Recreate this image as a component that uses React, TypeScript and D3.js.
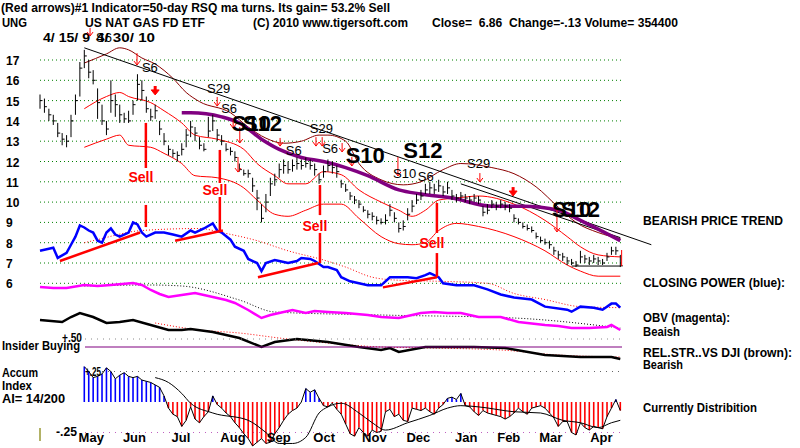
import React from 'react';
import * as d3 from 'd3';

// UNG daily bars 4/15/09 - 4/30/10, one entry every 2 trading days: [high, low, close]
const bars: number[][] = [
  [15.3, 14.6, 15.0], [15.1, 14.4, 14.7], [14.6, 14.0, 14.3], [14.3, 13.8, 14.0], [13.9, 13.2, 13.4],
  [13.4, 12.8, 13.1], [13.3, 12.7, 13.0], [14.3, 13.2, 14.0], [15.3, 14.3, 15.0], [16.9, 15.2, 16.6],
  [17.5, 16.6, 17.2], [17.0, 16.1, 16.4], [16.5, 15.8, 16.0], [15.6, 14.1, 14.9], [14.8, 13.8, 14.0],
  [14.0, 13.3, 13.6], [16.0, 14.4, 15.0], [15.3, 14.2, 14.8], [14.8, 13.9, 14.3], [14.4, 13.9, 14.1],
  [14.5, 13.9, 14.0], [15.0, 14.3, 14.8], [16.3, 15.0, 15.8], [16.0, 15.0, 15.5], [15.2, 14.4, 14.6],
  [14.6, 14.0, 14.2], [14.8, 14.1, 14.5], [14.0, 13.3, 13.6], [13.4, 12.8, 13.0], [12.8, 12.3, 12.6],
  [12.6, 12.2, 12.4], [12.5, 12.0, 12.3], [12.9, 12.3, 12.6], [13.6, 12.7, 13.3], [14.0, 13.2, 13.7],
  [13.7, 13.0, 13.4], [13.2, 12.6, 12.8], [12.9, 12.5, 12.6], [14.2, 13.2, 13.5], [14.3, 13.5, 14.0],
  [13.6, 13.0, 13.3], [13.3, 12.8, 13.0], [12.9, 12.5, 12.6], [12.7, 12.3, 12.5], [12.5, 12.0, 12.2],
  [11.9, 11.5, 11.6], [11.6, 11.3, 11.4], [11.6, 11.2, 11.4], [11.2, 10.5, 10.8], [10.6, 9.6, 10.2],
  [9.9, 9.0, 9.2], [10.4, 9.5, 10.0], [11.2, 10.3, 10.9], [11.4, 10.8, 11.1], [11.9, 11.2, 11.6],
  [12.1, 11.4, 11.8], [12.0, 11.4, 11.6], [12.1, 11.5, 11.8], [12.2, 11.6, 11.9], [12.1, 11.6, 11.8],
  [12.2, 11.7, 11.9], [12.1, 11.6, 11.8], [11.9, 11.3, 11.6], [11.4, 10.9, 11.1], [11.8, 11.2, 11.5],
  [12.1, 11.5, 11.8], [12.0, 11.4, 11.7], [11.8, 11.2, 11.5], [11.1, 10.7, 10.9], [10.9, 10.5, 10.6],
  [10.5, 10.1, 10.3], [10.3, 9.9, 10.1], [10.1, 9.7, 9.9], [9.8, 9.5, 9.6], [9.6, 9.2, 9.4],
  [9.5, 9.1, 9.3], [9.3, 8.9, 9.1], [9.2, 8.9, 9.0], [9.4, 8.9, 9.1], [9.9, 9.3, 9.6],
  [9.5, 9.0, 9.2], [9.0, 8.5, 8.7], [9.1, 8.6, 8.8], [9.7, 9.1, 9.4], [10.1, 9.5, 9.8],
  [10.4, 9.9, 10.1], [10.6, 10.1, 10.3], [10.9, 10.4, 10.6], [11.0, 10.4, 10.7], [10.9, 10.4, 10.6],
  [11.1, 10.5, 10.8], [10.8, 10.3, 10.5], [11.0, 10.4, 10.7], [10.6, 10.1, 10.3], [10.4, 10.0, 10.2],
  [10.5, 10.1, 10.3], [10.4, 10.0, 10.2], [10.3, 9.9, 10.1], [10.4, 10.0, 10.2], [10.3, 9.9, 10.1],
  [9.8, 9.3, 9.5], [9.9, 9.4, 9.6], [10.1, 9.7, 9.9], [10.0, 9.6, 9.8], [10.1, 9.7, 9.9],
  [10.0, 9.6, 9.8], [9.9, 9.5, 9.7], [9.4, 9.0, 9.2], [9.2, 8.9, 9.0], [9.0, 8.7, 8.8],
  [8.9, 8.6, 8.7], [8.8, 8.5, 8.6], [8.5, 8.2, 8.3], [8.3, 8.0, 8.1], [8.2, 7.9, 8.0],
  [8.1, 7.7, 7.9], [7.8, 7.4, 7.6], [7.6, 7.2, 7.4], [7.5, 7.1, 7.3], [7.3, 6.9, 7.1],
  [7.2, 6.9, 7.0], [7.1, 6.8, 6.9], [7.6, 7.0, 7.3], [7.4, 7.0, 7.2], [7.3, 6.9, 7.1],
  [7.4, 7.0, 7.2], [7.3, 6.9, 7.1], [7.2, 6.9, 7.0], [7.5, 7.1, 7.3], [7.8, 7.4, 7.6],
  [7.8, 7.4, 7.6], [7.4, 6.8, 6.86],
];

const priceTicks = [17, 16, 15, 14, 13, 12, 11, 10, 9, 8, 7, 6];
// month label, bar index of first trading day
const months: [string, number][] = [
  ['May', 6], ['Jun', 16], ['Jul', 27], ['Aug', 38], ['Sep', 48.5], ['Oct', 59],
  ['Nov', 70], ['Dec', 80], ['Jan', 91], ['Feb', 100.5], ['Mar', 110], ['Apr', 121.5],
];

// [bar index, price]
const upperBand = [[10, 14.6], [15, 15.2], [18, 15.4], [20, 15.2], [25, 14.9], [28, 14.5], [32, 13.9], [35, 13.3], [40, 13.1], [46, 12.6], [49, 11.9], [53, 11.3], [56, 10.9], [60, 10.9], [64, 11.5], [68, 11.35], [72, 10.6], [77, 10.0], [81, 9.6], [84, 9.3], [87, 9.6], [90, 10.1], [94, 10.2], [99, 10.3], [107, 9.9], [114, 9.1], [119, 8.3], [122, 7.8], [126, 7.4], [131, 7.3]];
const lowerBand = [[10, 12.7], [15, 13.1], [18, 13.3], [20, 12.8], [25, 12.7], [28, 12.4], [32, 11.9], [35, 11.3], [40, 11.2], [46, 10.7], [49, 10.1], [53, 9.4], [56, 9.3], [60, 9.6], [64, 9.9], [68, 9.9], [72, 9.2], [77, 8.3], [81, 7.95], [84, 7.9], [87, 8.0], [90, 8.6], [94, 8.95], [99, 8.8], [107, 8.3], [114, 7.6], [119, 6.9], [122, 6.6], [126, 6.35], [131, 6.35]];
const outerBand = [[10, 16.85], [15, 17.3], [18, 17.6], [20, 17.5], [23, 17.1], [26, 16.8], [30, 16.1], [33, 15.4], [36, 14.95], [43, 14.4], [47, 13.7], [51, 13.15], [55, 12.9], [59, 13.0], [63, 13.3], [65, 13.3], [69, 13.0], [72, 11.9], [77, 11.1], [82, 10.85], [86, 11.0], [91, 11.6], [95, 11.9], [102, 11.7], [107, 11.4], [112, 10.75], [117, 9.75], [121, 9.0], [126, 8.5], [131, 8.2]];
const ma50 = [[32, 14.4], [34, 14.4], [41, 14.2], [45, 13.9], [50, 13.1], [54, 12.6], [59, 12.2], [64, 12.0], [69, 11.7], [74, 11.3], [81, 10.6], [86, 10.4], [93, 10.2], [102, 9.8], [109, 9.8], [117, 9.6], [122, 9.1], [131, 8.1]];
const trendLines = [[[10, 17.6], [138, 7.9]], [[95, 10.9], [131, 8.25]], [[120, 6.85], [131, 6.85]]];

// closing power (blue) drawn on the price panel, with its red dotted average
const closingPower = [[0, 7.6], [2, 7.7], [3, 7.75], [4, 7.25], [6, 7.5], [7, 7.9], [8, 8.3], [9, 8.85], [10, 8.75], [11, 8.6], [12, 8.5], [13, 8.1], [14, 8.0], [15, 8.5], [16, 8.7], [17, 8.4], [18, 8.3], [20, 8.5], [21, 9.0], [22, 8.9], [23, 8.5], [24, 8.3], [26, 8.5], [28, 8.5], [30, 8.4], [32, 8.3], [34, 8.6], [35, 8.5], [37, 8.7], [39, 8.95], [40, 8.6], [41, 8.5], [43, 8.15], [44, 7.8], [46, 7.6], [47, 7.2], [49, 7.0], [50, 6.6], [51, 7.0], [53, 7.15], [54, 7.1], [56, 7.0], [58, 7.1], [59, 7.25], [61, 7.2], [62, 7.1], [64, 6.8], [65, 6.8], [67, 6.65], [68, 6.3], [70, 6.1], [72, 6.0], [74, 5.9], [77, 5.9], [79, 6.3], [83, 6.3], [85, 6.25], [87, 6.4], [88, 6.5], [90, 6.3], [91, 6.0], [94, 5.9], [98, 5.9], [101, 5.7], [104, 5.45], [107, 5.3], [111, 5.2], [114, 4.85], [119, 4.7], [120, 4.6], [122, 4.85], [125, 4.8], [127, 4.7], [129, 5.0], [130, 5.0], [131, 4.8]];
const closingPowerMa = [[10, 8.0], [12, 8.1], [23, 8.6], [36, 8.7], [41, 8.5], [49, 8.1], [56, 7.6], [64, 7.15], [69, 6.8], [75, 6.3], [81, 6.15], [90, 6.1], [101, 6.0], [107, 5.5], [114, 5.2], [122, 4.85], [131, 4.8]];
const cpTrends = [[[4.5, 7.1], [22.6, 8.5]], [[30.5, 8.1], [41.3, 8.6]], [[49.2, 6.3], [62.8, 7.0]], [[77.4, 5.8], [89.6, 6.3]]];

// OBV (magenta) and relative strength vs DJI (black), relative units
const obv = [[0, 43], [3, 42], [6, 42], [10, 45], [13, 44], [16, 45], [21, 47], [23, 45], [25, 40], [27, 36], [29, 33], [32, 35], [35, 37], [39, 33], [42, 30], [44, 27], [47, 20], [50, 12], [52, 15], [54, 17], [57, 20], [60, 17], [62, 19], [65, 18], [69, 17], [74, 15], [77, 13], [81, 12], [84, 15], [86, 17], [89, 18], [92, 17], [95, 17], [99, 13], [104, 13], [108, 8], [114, 5], [117, 4], [120, 2], [124, 2], [128, 3], [129, 5], [131, 0]];
const obvMa = [[10, 44], [25, 45], [32, 44], [45, 30], [53, 18], [77, 15], [107, 12], [131, 2]];
const relStr = [[0, 40], [5, 38], [7, 43], [9, 47], [12, 43], [15, 37], [18, 38], [21, 40], [25, 35], [29, 30], [32, 30], [34, 31], [39, 28], [45, 22], [50, 13], [53, 18], [58, 21], [65, 18], [72, 13], [77, 10], [79, 12], [81, 8], [87, 13], [98, 13], [105, 12], [114, 5], [122, 3], [129, 3], [131, 1]];
const relStrMa = [[26, 37], [36, 30], [45, 27], [54, 22], [65, 17], [77, 13], [88, 12], [104, 10], [117, 5], [131, 3]];

// Accumulation index from bar 10 onwards
const accumStart = 10;
const accum = [
  0.29, 0.25, 0.20, 0.21, 0.23, 0.28, 0.25, 0.19, 0.22, 0.24, 0.21, 0.20, 0.21, 0.18, 0.17, 0.16, 0.14, 0.12, 0.05,
  -0.05, -0.10, -0.12, -0.20, -0.15, -0.04, -0.14, -0.17, -0.12, -0.08, 0.05, -0.02, -0.05, -0.09, -0.12, -0.17,
  -0.21, -0.26, -0.30, -0.36, -0.33, -0.30, -0.34, -0.33, -0.26, -0.21, -0.15, -0.10, -0.07, -0.05, 0.00, 0.11,
  0.08, 0.10, 0.03, -0.03, -0.04, -0.01, -0.06, -0.10, -0.18, -0.26, -0.28, -0.21, -0.25, -0.28, -0.23, -0.25,
  -0.24, -0.08, -0.06, -0.12, -0.10, -0.15, -0.16, -0.05, -0.06, -0.07, -0.05, -0.08, -0.10, -0.05, -0.02, 0.03,
  0.04, 0.02, 0.07, -0.03, -0.04, -0.08, -0.11, -0.07, -0.09, -0.10, -0.11, -0.12, -0.14, -0.12, -0.09, -0.05,
  -0.08, -0.10, -0.05, -0.04, -0.03, -0.05, -0.09, -0.13, -0.20, -0.16, -0.16, -0.25, -0.27, -0.17, -0.21, -0.23,
  -0.20, -0.21, -0.22, -0.12, -0.05, 0.02, -0.07,
];
const accumMa = [[26, 0.20], [29, 0.16], [32, 0.07], [34, -0.01], [39, -0.09], [47, -0.15], [51, -0.25], [54, -0.34], [57, -0.34], [60, -0.29], [63, -0.09], [65, -0.04], [68, -0.01], [72, -0.09], [75, -0.17], [78, -0.23], [83, -0.17], [88, -0.11], [92, -0.05], [95, -0.03], [99, -0.04], [107, -0.08], [113, -0.09], [118, -0.15], [122, -0.17], [126, -0.21], [129, -0.17], [131, -0.15]];

// signals: [label, bar index, price]
const smallSignals: [string, number, number][] = [['S6', 23, 16.41], ['S29', 37.7, 15.37], ['S6', 40.9, 14.39], ['S6', 55.5, 12.32], ['S29', 60.9, 13.4], ['S6', 63.7, 12.42], ['S10', 79.7, 11.19], ['S6', 85.3, 11.04], ['S29', 96.4, 11.68]];
const bigSignals: [string, number, number][] = [['S10', 43.3, 13.5], ['S12', 45.8, 13.5], ['S10', 69, 11.93], ['S12', 82, 12.17], ['S10', 115.6, 9.27], ['S12', 117.6, 9.27]];
const arrows = [[11.3, 18.58, 18.18], [21.9, 17.34, 16.75], [40, 15.18, 14.73], [43.6, 14.04, 13.65], [45.1, 13.7, 12.91], [44.7, 12.22, 11.48], [54.2, 13.16, 12.76], [62.3, 13.2, 12.76], [63.7, 13.2, 12.76], [68.2, 12.91, 12.47], [70.4, 12.22, 11.78], [80.8, 12.22, 11.29], [99.3, 11.43, 10.99], [116.7, 9.76, 8.53]];
const boldArrows = [[26, 15.72, 15.28], [106.8, 10.74, 10.3]];
// sell marks: [bar index, line1 top, line1 bottom, text centre, line2 top, line2 bottom]
const sells = [[23.9, 13.9, 11.68, 11.24, 9.86, 8.77], [40.6, 12.57, 10.94, 10.6, 10.25, 8.53], [63.2, 10.84, 9.36, 8.87, 8.48, 7.0], [89.6, 9.96, 8.48, 7.99, 7.49, 6.31]];

const x = d3.scaleLinear().domain([0, 131]).range([40, 620.3]);
const yP = d3.scaleLinear().domain([6, 17]).range([283.3, 60]);
const yObv = d3.scaleLinear().domain([0, 50]).range([330, 280]);
const yRs = d3.scaleLinear().domain([0, 50]).range([360, 310]);
const yAi = d3.scaleLinear().domain([-0.25, 0.25]).range([432.5, 371.5]);

const FONT = '"Liberation Sans", Arial, sans-serif';

function path(pts: number[][], sy: d3.ScaleLinear<number, number>, curve: d3.CurveFactory = d3.curveMonotoneX) {
  return d3.line<number[]>().x(d => x(d[0])).y(d => sy(d[1])).curve(curve)(pts) || '';
}

const Txt = ({ x, y, w, size = 12, bold = true, fill = '#000', anchor = 'start', children }: any) => (
  <text x={x} y={y} fontSize={size} fontWeight={bold ? 'bold' : 'normal'} fill={fill} fontFamily={FONT}
    textAnchor={anchor} style={{ whiteSpace: 'pre' }}
    {...(w ? { textLength: w, lengthAdjust: 'spacingAndGlyphs' } : {})}>{children}</text>
);

export default function App() {
  const accumPts = accum.map((v, i) => [accumStart + i, v]);
  return (
    <svg width={800} height={448} style={{ position: 'absolute', left: 0, top: 0, background: '#fff' }}>
      <rect width={800} height={448} fill="#fff" />

      {/* header */}
      <Txt x={1} y={12} w={389}>(Red arrows)#1 Indicator=50-day RSQ ma turns. Its gain= 53.2% Sell</Txt>
      <Txt x={2} y={27} w={25}>UNG</Txt>
      <Txt x={85} y={27} w={120}>US NAT GAS FD ETF</Txt>
      <Txt x={253} y={27} w={155}>(C) 2010 www.tigersoft.com</Txt>
      <Txt x={432} y={27} w={246}>Close=  6.86  Change=-.13 Volume= 354400</Txt>
      <Txt x={43} y={42} w={47}>4/ 15/ 9</Txt>
      <Txt x={96} y={42} w={59}>4/ 30/ 10</Txt>
      <Txt x={96} y={42} size={13} bold={false}>S6</Txt>

      {/* grid + price axis */}
      {priceTicks.map(t => (
        <g key={t}>
          <line x1={40} x2={622} y1={yP(t)} y2={yP(t)} stroke="#008000" strokeDasharray="1 3" />
          <Txt x={6} y={yP(t) + 5}>{t}</Txt>
        </g>
      ))}

      {/* bands, trend lines, moving average */}
      <path d={path(outerBand, yP)} fill="none" stroke="#8b0000" strokeWidth={1} />
      <path d={path(upperBand, yP)} fill="none" stroke="#ff0000" strokeWidth={1} />
      <path d={path(lowerBand, yP)} fill="none" stroke="#ff0000" strokeWidth={1} />
      {trendLines.map((l, i) => <path key={i} d={path(l, yP, d3.curveLinear)} stroke="#000" strokeWidth={1} fill="none" />)}
      <path d={path(ma50, yP)} fill="none" stroke="#800080" strokeWidth={3.5} />

      {/* price bars */}
      {bars.map((b, i) => (
        <g key={i} stroke="#000" strokeWidth={1}>
          <line x1={x(i)} x2={x(i)} y1={yP(b[0])} y2={yP(b[1])} />
          <line x1={x(i)} x2={x(i) + 2.5} y1={yP(b[2])} y2={yP(b[2])} />
        </g>
      ))}

      {/* closing power */}
      <path d={path(closingPowerMa, yP)} fill="none" stroke="#ff0000" strokeWidth={1} strokeDasharray="1 2" />
      <path d={path(closingPower, yP, d3.curveLinear)} fill="none" stroke="#0000ff" strokeWidth={2.5} />
      {cpTrends.map((l, i) => <path key={i} d={path(l, yP, d3.curveLinear)} stroke="#ff0000" strokeWidth={2.5} fill="none" />)}

      {/* sells */}
      {sells.map((s, i) => (
        <g key={i}>
          <line x1={x(s[0])} x2={x(s[0])} y1={yP(s[1])} y2={yP(s[2])} stroke="#ff0000" strokeWidth={2.5} />
          <line x1={x(s[0])} x2={x(s[0])} y1={yP(s[4])} y2={yP(s[5])} stroke="#ff0000" strokeWidth={2.5} />
          <Txt x={x(s[0]) - 5} y={yP(s[3]) + 5.5} size={14} fill="#ff0000" anchor="middle">Sell</Txt>
        </g>
      ))}

      {/* signal arrows */}
      {arrows.map((a, i) => {
        const ax = x(a[0]), y1 = yP(a[1]), y2 = yP(a[2]);
        return (
          <g key={i} stroke="#ff0000" strokeWidth={1} fill="none">
            <line x1={ax} x2={ax} y1={y1} y2={y2} />
            <polyline points={`${ax - 3},${y2 - 4} ${ax},${y2} ${ax + 3},${y2 - 4}`} />
          </g>
        );
      })}
      {boldArrows.map((a, i) => {
        const ax = x(a[0]), y1 = yP(a[1]), y2 = yP(a[2]);
        return (
          <g key={i} fill="#ff0000" stroke="#ff0000">
            <line x1={ax} x2={ax} y1={y1} y2={y2 - 4} strokeWidth={3} />
            <polygon points={`${ax - 4},${y2 - 5} ${ax + 4},${y2 - 5} ${ax},${y2}`} />
          </g>
        );
      })}
      <line x1={x(131.3)} x2={x(131.3)} y1={yP(7.64)} y2={yP(6.85)} stroke="#ff0000" strokeWidth={1} />

      {smallSignals.map((s, i) => <Txt key={i} x={x(s[1])} y={yP(s[2])} size={13} bold={false}>{s[0]}</Txt>)}
      {bigSignals.map((s, i) => <Txt key={i} x={x(s[1])} y={yP(s[2])} size={22}>{s[0]}</Txt>)}

      {/* OBV and relative strength */}
      <path d={path(obvMa, yObv)} fill="none" stroke="#000" strokeWidth={1} strokeDasharray="1 2" />
      <path d={path(obv, yObv, d3.curveLinear)} fill="none" stroke="#ff00ff" strokeWidth={2.5} />
      <path d={path(relStrMa, yRs)} fill="none" stroke="#ff0000" strokeWidth={1} strokeDasharray="1 2" />
      <path d={path(relStr, yRs, d3.curveLinear)} fill="none" stroke="#000" strokeWidth={2.5} />

      {/* insider buying */}
      <Txt x={62} y={342} w={20}>+.50</Txt>
      <Txt x={2} y={350} w={78}>Insider Buying</Txt>
      <line x1={85} x2={622} y1={339} y2={339} stroke="#888" strokeDasharray="1 5" />
      <line x1={85} x2={622} y1={347} y2={347} stroke="#800080" strokeWidth={1.2} />

      {/* accumulation index */}
      <Txt x={2} y={377} w={36}>Accum</Txt>
      <Txt x={2} y={390} w={30}>Index</Txt>
      <Txt x={2} y={403} w={63}>AI= 14/200</Txt>
      <Txt x={85} y={376} w={16}>+.25</Txt>
      <Txt x={56} y={436} w={21}>-.25</Txt>
      <line x1={102} x2={622} y1={yAi(0.25)} y2={yAi(0.25)} stroke="#666" strokeDasharray="1 5" />
      <line x1={85} x2={622} y1={yAi(-0.25)} y2={yAi(-0.25)} stroke="#c060c0" strokeDasharray="1 5" />
      <line x1={40} x2={40} y1={428} y2={441} stroke="#999933" strokeWidth={1.5} />
      {accumPts.map((d, i) => (
        <line key={i} x1={x(d[0])} x2={x(d[0])} y1={yAi(0)} y2={yAi(d[1])}
          stroke={d[1] >= 0 ? '#0000ff' : '#ff0000'} strokeWidth={1.6} />
      ))}
      <path d={path(accumPts, yAi, d3.curveLinear)} fill="none" stroke="#000" strokeWidth={1} />
      <path d={path(accumMa, yAi)} fill="none" stroke="#000" strokeWidth={1} />

      {/* months */}
      {months.map(([m, k]) => <Txt key={m} x={x(k) + 12} y={442} size={13}>{m}</Txt>)}

      {/* right-side notes */}
      <Txt x={643} y={225} w={140}>BEARISH PRICE TREND</Txt>
      <Txt x={643} y={287} w={142}>CLOSING POWER (blue):</Txt>
      <Txt x={643} y={322} w={87}>OBV (magenta):</Txt>
      <Txt x={643} y={336} w={37}>Beaish</Txt>
      <Txt x={643} y={357} w={149}>REL.STR..VS DJI (brown):</Txt>
      <Txt x={643} y={369} w={40}>Bearish</Txt>
      <Txt x={643} y={412} w={114}>Currently Distribition</Txt>
    </svg>
  );
}
